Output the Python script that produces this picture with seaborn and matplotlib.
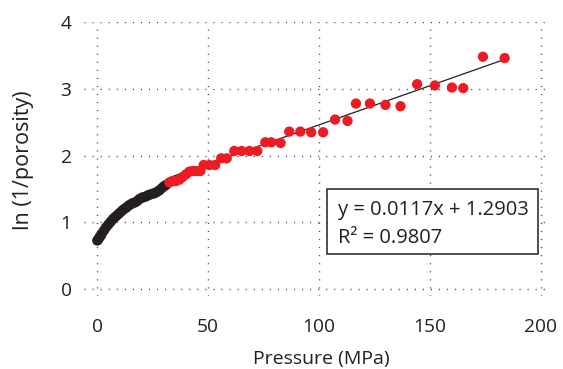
import matplotlib
matplotlib.use("Agg")
import matplotlib.pyplot as plt
import seaborn as sns
import pandas as pd
import numpy as np
from matplotlib.patches import Rectangle

# ---- data ----
black_x = [0, 0.5, 1, 1.5, 2, 3, 4, 5, 6, 7, 8, 9, 10, 11, 12, 13, 14, 15, 16, 17,
           18, 19, 20, 21, 22, 23, 24, 25, 26, 27, 28, 29, 30, 31]
black_y = [0.73, 0.75, 0.78, 0.80, 0.83, 0.88, 0.93, 0.97, 1.01, 1.05, 1.08, 1.11,
           1.14, 1.17, 1.20, 1.22, 1.25, 1.27, 1.29, 1.30, 1.32, 1.35, 1.37, 1.38,
           1.39, 1.41, 1.42, 1.43, 1.44, 1.46, 1.48, 1.51, 1.54, 1.56]

red_x = [32.5, 34, 35.5, 37, 38.5, 40, 41.5, 43, 44.5, 46.5, 48, 50.6, 53.2, 55.9,
         58.4, 61.8, 65.1, 68.6, 72.2, 75.8, 78.5, 82.7, 86.6, 91.6, 96.5, 101.9,
         107.3, 112.9, 116.7, 123, 130, 136.8, 144.3, 152.3, 160, 165.1, 174, 183.8]
red_y = [1.60, 1.62, 1.62, 1.64, 1.68, 1.72, 1.76, 1.77, 1.77, 1.77, 1.86, 1.86,
         1.86, 1.96, 1.96, 2.07, 2.07, 2.07, 2.07, 2.20, 2.20, 2.19, 2.36, 2.36,
         2.35, 2.35, 2.54, 2.52, 2.78, 2.78, 2.76, 2.74, 3.07, 3.05, 3.02, 3.01,
         3.48, 3.46]

slope = 0.0117
intercept = 1.2903
r_squared = 0.9807

x_ticks = [0, 50, 100, 150, 200]
y_ticks = [0, 1, 2, 3, 4]

x_label = "Pressure (MPa)"
y_label = "ln (1/porosity)"

# ---- style ----
sns.set_style("white")
plt.rcParams["font.family"] = ["Open Sans", "DejaVu Sans"]
FS = 13.8
TXT = "#231F20"
RED = "#ED1C24"

fig = plt.figure(figsize=(5.63, 3.69), dpi=100)
ax = fig.add_axes([84 / 563, 1 - 296 / 369, 461 / 563, 274 / 369])

black_df = pd.DataFrame({"x": black_x, "y": black_y})
red_df = pd.DataFrame({"x": red_x, "y": red_y})
line_x = [min(red_x), max(red_x)]
line_df = pd.DataFrame({"x": line_x, "y": [slope * v + intercept for v in line_x]})

sns.lineplot(data=line_df, x="x", y="y", ax=ax, color=TXT, lw=0.9, zorder=2)
sns.scatterplot(data=black_df, x="x", y="y", ax=ax, color=TXT, s=55,
                edgecolor="none", linewidth=0, zorder=3)
sns.scatterplot(data=red_df, x="x", y="y", ax=ax, color=RED, s=55,
                edgecolor="none", linewidth=0, zorder=3)

ax.set_xlim(-6, 202)
ax.set_ylim(-0.1, 4.0)
ax.set_xticks(x_ticks)
ax.set_yticks(y_ticks)
ax.set_xticklabels([str(t) for t in x_ticks])
ax.set_yticklabels([str(t) for t in y_ticks])
ax.tick_params(axis="both", length=0, labelsize=FS, labelcolor=TXT)
ax.tick_params(axis="x", pad=16)
ax.tick_params(axis="y", pad=9)

for s in ax.spines.values():
    s.set_visible(False)
ax.grid(True, color="#444444", lw=1.0, linestyle=(0, (0.8, 5.0)))
ax.set_axisbelow(True)

ax.set_xlabel(x_label, fontsize=14, color=TXT)
ax.set_ylabel(y_label, fontsize=15.5, color=TXT)
ax.xaxis.set_label_coords((321 - 84) / 461, (296 - 350) / 274)
ax.yaxis.set_label_coords((34 - 84) / 461, (296 - 160) / 274)

# equation box
ax.add_patch(Rectangle((0.527, 0.153), 0.985 - 0.527, 0.3905 - 0.153,
                       transform=ax.transAxes, fill=True, facecolor="white",
                       edgecolor=TXT, lw=1.1, zorder=4))
ax.text(0.551, 0.296, f"y = {slope}x + {intercept}", transform=ax.transAxes,
        fontsize=14.5, color=TXT, va="baseline", ha="left", zorder=5)
ax.text(0.551, 0.193, f"R\u00b2 = {r_squared}", transform=ax.transAxes,
        fontsize=14.5, color=TXT, va="baseline", ha="left", zorder=5)

fig.savefig("out.png", dpi=100, facecolor="white")
